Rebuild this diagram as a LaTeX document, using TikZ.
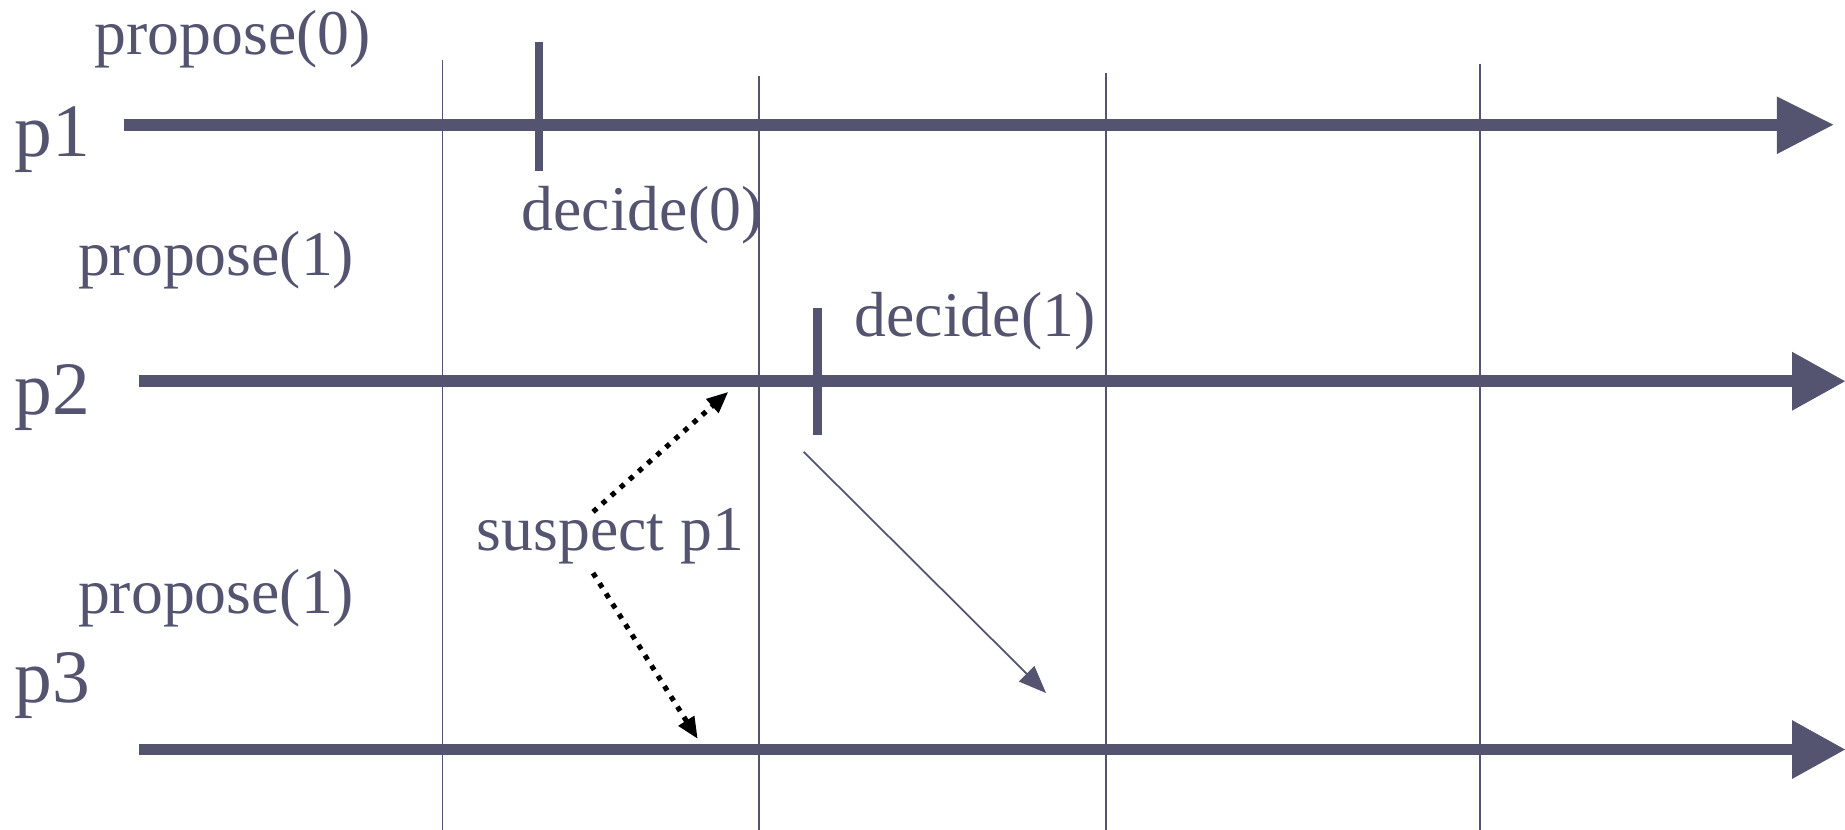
\documentclass[tikz,border=0pt]{standalone}
\usepackage{fontspec}
\setmainfont{Liberation Serif}
\usetikzlibrary{arrows.meta}
\definecolor{ink}{RGB}{84,84,112}
\begin{document}
\begin{tikzpicture}[x=0.6pt,y=-0.6pt,
  lbl/.style={anchor=base west,inner sep=0pt,text=ink,font=\fontsize{32.5}{39}\selectfont},
  plbl/.style={anchor=base west,inner sep=0pt,text=ink,font=\fontsize{38.5}{46}\selectfont},
  timeline/.style={draw=ink,line width=6pt},
  headtri/.style={fill=ink},
  gridline/.style={draw=ink,line width=0.9pt},
  tickmark/.style={draw=ink,line width=4.4pt},
  susp/.style={draw=black,line width=2.6pt,line cap=butt,dash pattern=on 2.6pt off 3.6pt,-{Triangle[length=11pt,width=9pt]}},
  msg/.style={draw=ink,line width=0.9pt,-{Triangle[length=14pt,width=11pt]}}]
\useasboundingbox (0,0) rectangle (1568,705);
% timelines
\coordinate (a1) at (105,106); \coordinate (b1) at (1512,106);
\coordinate (a2) at (118,324); \coordinate (b2) at (1525,324);
\coordinate (a3) at (118,637); \coordinate (b3) at (1525,637);
\draw[timeline] (a1) -- (b1);
\draw[timeline] (a2) -- (b2);
\draw[timeline] (a3) -- (b3);
\fill[headtri] (1510,82) -- (1558,106) -- (1510,131) -- cycle;
\fill[headtri] (1523,299) -- (1568,324) -- (1523,349) -- cycle;
\fill[headtri] (1523,612) -- (1568,637) -- (1523,662) -- cycle;
% grid lines
\coordinate (g1t) at (376,51);  \coordinate (g1b) at (376,705);
\coordinate (g2t) at (645,65);  \coordinate (g2b) at (645,705);
\coordinate (g3t) at (940,62);  \coordinate (g3b) at (940,705);
\coordinate (g4t) at (1258,54); \coordinate (g4b) at (1258,705);
\draw[gridline] (g1t) -- (g1b);
\draw[gridline] (g2t) -- (g2b);
\draw[gridline] (g3t) -- (g3b);
\draw[gridline] (g4t) -- (g4b);
% decision ticks
\coordinate (t1a) at (458,36);  \coordinate (t1b) at (458,145);
\coordinate (t2a) at (695,262); \coordinate (t2b) at (695,370);
\draw[tickmark] (t1a) -- (t1b);
\draw[tickmark] (t2a) -- (t2b);
% labels
\node[lbl] (pr0) at (80,46) {propose(0)};
\node[plbl] (p1) at (12,133) {p1};
\node[lbl] (dc0) at (443,196) {decide(0)};
\node[lbl] (pr1a) at (66,234) {propose(1)};
\node[lbl] (dc1) at (726,286) {decide(1)};
\node[plbl] (p2) at (12,352) {p2};
\node[lbl] (sus) at (405,468) {suspect p1};
\node[lbl] (pr1b) at (66,521) {propose(1)};
\node[plbl] (p3) at (12,597) {p3};
% messages
\coordinate (s1) at (504,435); \coordinate (e1) at (619,333);
\coordinate (s2) at (504,487); \coordinate (e2) at (593,628);
\draw[susp] (s1) -- (e1);
\draw[susp] (s2) -- (e2);
\coordinate (m1) at (683,384); \coordinate (m2) at (889,589);
\draw[msg] (m1) -- (m2);
\end{tikzpicture}
\end{document}
